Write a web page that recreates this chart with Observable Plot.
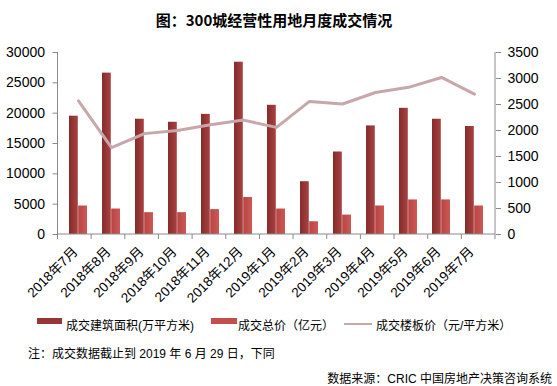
<!DOCTYPE html>
<html><head><meta charset="utf-8">
<script src="https://cdn.jsdelivr.net/npm/d3@7"></script>
<script src="https://cdn.jsdelivr.net/npm/@observablehq/plot@0.6"></script>
<style>
html,body{margin:0;padding:0;background:#fff;}
#wrap{position:relative;width:557px;height:386px;overflow:hidden;font-family:"Liberation Sans","Noto Sans CJK SC",sans-serif;color:#000;}
.abs{position:absolute;white-space:nowrap;}
#title{left:0;width:548px;top:9px;text-align:center;font-size:15px;font-weight:bold;font-family:"Noto Sans CJK SC",sans-serif;}
#chart{position:absolute;left:0;top:34px;}
.leg{font-size:12px;top:316px;}
.sw{position:absolute;}
</style></head>
<body><div id="wrap">
<div id="title" class="abs">图：300城经营性用地月度成交情况</div>
<div id="chart"></div>
<div class="sw" style="left:37px;top:318px;width:25px;height:6px;background:#963636"></div>
<div class="abs leg" style="left:66px">成交建筑面积(万平方米)</div>
<div class="sw" style="left:211px;top:318px;width:26px;height:6px;background:#C24F4C"></div>
<div class="abs leg" style="left:238px">成交总价（亿元）</div>
<div class="sw" style="left:344px;top:323px;width:28px;height:2px;background:#C8A7AA"></div>
<div class="abs leg" style="left:376px">成交楼板价（元/平方米）</div>
<div class="abs" style="left:28px;top:344px;font-size:12px">注：成交数据截止到 2019 年 6 月 29 日，下同</div>
<div class="abs" style="right:5px;top:369px;font-size:12px">数据来源：CRIC 中国房地产决策咨询系统</div>
</div>
<script>
const months = ["2018年7月","2018年8月","2018年9月","2018年10月","2018年11月","2018年12月","2019年1月","2019年2月","2019年3月","2019年4月","2019年5月","2019年6月","2019年7月"];
const area = [19500, 26600, 19000, 18500, 19800, 28400, 21300, 8700, 13600, 17900, 20800, 19000, 17800];
const total = [4700, 4200, 3600, 3600, 4100, 6100, 4200, 2100, 3200, 4700, 5700, 5700, 4700];
const price = [2570, 1670, 1940, 2000, 2110, 2200, 2060, 2560, 2510, 2730, 2830, 3020, 2700];
const leftTicks = [0, 5000, 10000, 15000, 20000, 25000, 30000];
const rightTicks = [0, 500, 1000, 1500, 2000, 2500, 3000, 3500];
const leftMax = 30000, rightMax = 3500;
const K = leftMax / rightMax;

const rows = months.map((m, i) => ({month: m, area: area[i], total: total[i], price: price[i]}));
const axisColor = "#8a8a8a";

function defs() {
  const d = d3.create("svg:defs");
  const g1 = d.append("linearGradient").attr("id", "gDark").attr("x1", 0).attr("x2", 1).attr("y1", 0).attr("y2", 0);
  g1.append("stop").attr("offset", 0).attr("stop-color", "#862b2b");
  g1.append("stop").attr("offset", 1).attr("stop-color", "#a84242");
  const g2 = d.append("linearGradient").attr("id", "gLight").attr("x1", 0).attr("x2", 1).attr("y1", 0).attr("y2", 0);
  g2.append("stop").attr("offset", 0).attr("stop-color", "#b94542");
  g2.append("stop").attr("offset", 1).attr("stop-color", "#cc5955");
  return d.node();
}

function frameLines(index, scales, values, dims) {
  const L = dims.marginLeft, R = dims.width - dims.marginRight;
  const T = dims.marginTop, B = dims.height - dims.marginBottom;
  const n = months.length, step = (R - L) / n;
  const g = d3.create("svg:g").attr("stroke", axisColor).attr("stroke-width", 1).attr("fill", "none");
  g.append("line").attr("x1", L).attr("x2", L).attr("y1", T).attr("y2", B);
  g.append("line").attr("x1", R).attr("x2", R).attr("y1", T).attr("y2", B);
  g.append("line").attr("x1", L).attr("x2", R).attr("y1", B).attr("y2", B);
  for (let i = 0; i <= n; i++) {
    const x = L + i * step;
    g.append("line").attr("x1", x).attr("x2", x).attr("y1", B).attr("y2", B + 5);
  }
  return g.node();
}

const chart = Plot.plot({
  width: 557,
  height: 282,
  marginTop: 18,
  marginBottom: 82,
  marginLeft: 57.5,
  marginRight: 62,
  style: {fontFamily: "'Liberation Sans','Noto Sans CJK SC',sans-serif", fontSize: "14px", color: "#000", background: "transparent"},
  x: {type: "band", domain: months, paddingInner: 0.454, paddingOuter: 0.227, label: null},
  y: {domain: [0, leftMax], label: null},
  marks: [
    defs,
    Plot.barY(rows, {x: "month", y: "area", fill: "url(#gDark)", insetRight: 9.2}),
    Plot.barY(rows, {x: "month", y: "total", fill: "url(#gLight)", insetLeft: 9.2}),
    Plot.line(rows, {x: "month", y: d => d.price * K, stroke: "#C8A7AA", strokeWidth: 3}),
    frameLines,
    Plot.axisY({anchor: "left", ticks: leftTicks, tickFormat: d => String(d), tickSize: 5, tickPadding: 8, label: null, stroke: axisColor, fontSize: 14}),
    Plot.axisY({anchor: "right", ticks: rightTicks.map(v => v * K), tickFormat: d => String(Math.round(d / K)), tickSize: 5, tickPadding: 7, label: null, stroke: axisColor, fontSize: 14}),
    Plot.axisX({anchor: "bottom", tickRotate: -45, tickSize: 0, tickPadding: 15, dx: -3, label: null, fontSize: 13.5})
  ]
});
document.getElementById("chart").appendChild(chart);
</script>
</body></html>
